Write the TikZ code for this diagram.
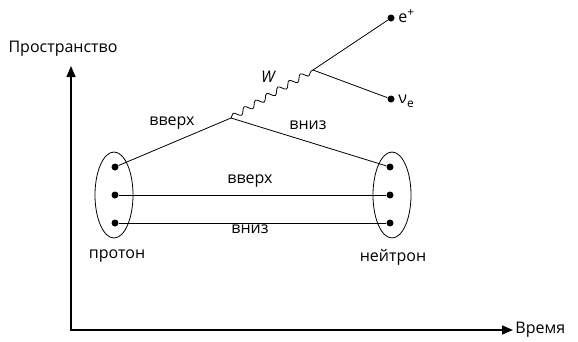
\documentclass[tikz,border=0pt]{standalone}
\usepackage{fontspec}
\setmainfont{Open Sans}
\usetikzlibrary{arrows.meta,shapes.geometric,decorations.pathmorphing}
\tikzset{
  quark/.style={circle,fill=black,inner sep=0pt,minimum size=7pt},
  hadron/.style={draw,ellipse,inner sep=0pt,minimum width=38pt,minimum height=86pt},
  axis/.style={line width=1.5pt,{Triangle[length=11pt,width=9pt]}-{Triangle[length=11pt,width=9pt]}},
  lbl/.style={font=\fontsize{16}{18}\selectfont},
  wboson/.style={decorate,decoration={snake,segment length=13pt,amplitude=3pt}},
}
\newcommand{\idx}[1]{{\fontsize{12}{13}\selectfont #1}}

\begin{document}
\begin{tikzpicture}[x=1pt,y=-1pt,line width=.8pt]
\useasboundingbox (0,0) rectangle (578,341);
% axes: space up, time to the right
\coordinate (ytip) at (71,66);
\coordinate (xtip) at (513,330);
\draw[axis] (ytip) |- (xtip);
\node[lbl] (space) at (63,49) {Пространство};
\node[lbl,anchor=west,inner sep=2pt] (time) at (xtip) {Время};
% proton and neutron with their three quarks
\node[hadron] (proton) at (114,195) {};
\node[hadron] (neutron) at (392,195) {};
\foreach \i/\y in {1/167,2/195,3/223}{
  \node[quark] (p\i) at (115,\y) {};
  \node[quark] (n\i) at (390,\y) {};
}
\node[lbl] (protlbl) at (117,256) {протон};
\node[lbl] (neutlbl) at (393,257) {нейтрон};
\draw (p2) -- (n2);
\draw (p3) -- (n3);
\node[lbl] (up2) at (250,181) {вверх};
\node[lbl] (down3) at (250,229) {вниз};
% W emission at the quark line
\coordinate (vtx) at (231,118);
\coordinate (wend) at (313,70);
\draw (p1) -- (vtx) -- (n1);
\draw[wboson] (vtx) -- (wend);
\node[lbl] (up1) at (172,123) {вверх};
\node[lbl] (down1) at (308,125) {вниз};
\node[lbl,font=\fontsize{16}{18}\selectfont\itshape] (wlbl) at (268,77) {W};
% decay products
\node[quark] (ep) at (391,18) {};
\node[quark] (nue) at (391,99) {};
\draw (wend) -- (ep);
\draw (wend) -- (nue);
\node[lbl,anchor=west,inner sep=2pt] (eplbl) at (396,16) {e\raisebox{6pt}{\idx{+}}};
\node[lbl,anchor=west,inner sep=2pt] (nuelbl) at (396,101) {ν\raisebox{-4pt}{\idx{e}}};
\end{tikzpicture}
\end{document}
